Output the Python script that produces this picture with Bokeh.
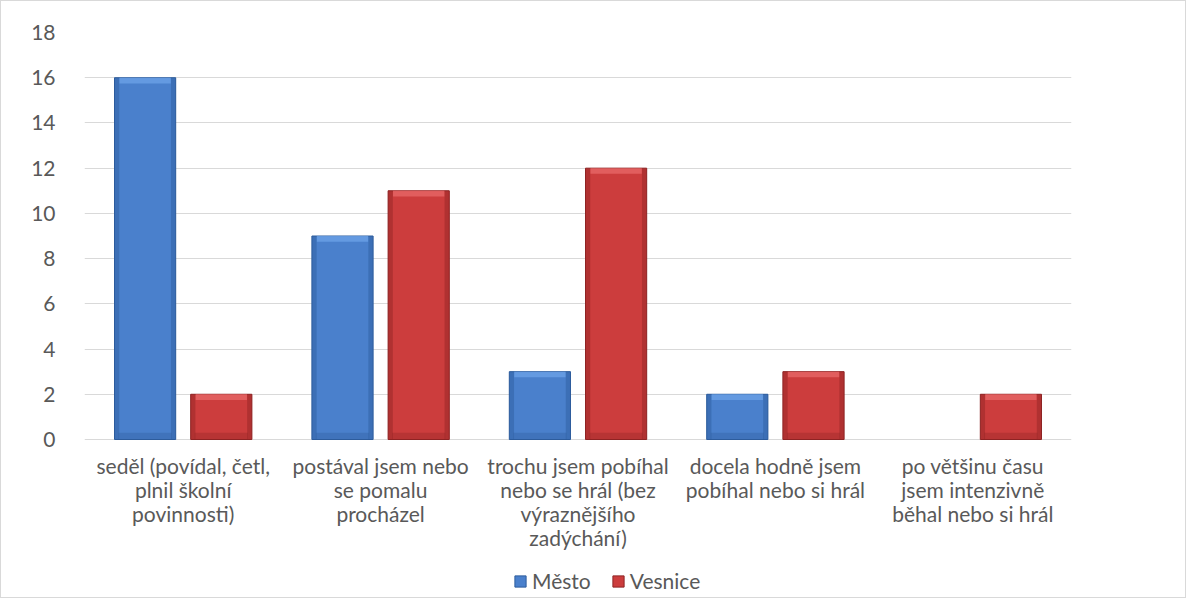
from bokeh.plotting import figure
from bokeh.models import ColumnDataSource, Range1d, FixedTicker, Legend, LegendItem
from bokeh.core.properties import value
from bokeh.embed import file_html
from bokeh.resources import INLINE

categories = [
    "seděl (povídal, četl,\nplnil školní\npovinnosti)",
    "postával jsem nebo\nse pomalu\nprocházel",
    "trochu jsem pobíhal\nnebo se hrál (bez\nvýraznějšího\nzadýchání)",
    "docela hodně jsem\npobíhal nebo si hrál",
    "po většinu času\njsem intenzivně\nběhal nebo si hrál",
]
mesto = [16, 9, 3, 2, 0]
vesnice = [2, 11, 12, 3, 2]
y_ticks = [0, 2, 4, 6, 8, 10, 12, 14, 16, 18]

FONT = "Lato"
TXT = "#595959"
FS = "21px"

H = 598
TOP = 31
PX_PER_UNIT = 407 / 18.0
frame_h = H - TOP
ymin = 18 - frame_h / PX_PER_UNIT

p = figure(width=1186, height=H, output_backend="svg", toolbar_location=None,
           x_range=Range1d(-0.5, 4.5), y_range=Range1d(ymin, 18),
           min_border_left=83, min_border_right=116, min_border_top=TOP, min_border_bottom=0)
p.styles = {"border": "1px solid #d9d9d9", "box-sizing": "border-box"}
p.outline_line_color = None
p.xaxis.visible = False
p.xgrid.grid_line_color = None
p.ygrid.grid_line_color = "#d9d9d9"
p.ygrid.grid_line_width = 1
p.yaxis.ticker = FixedTicker(ticks=y_ticks)
p.yaxis.axis_line_color = None
p.yaxis.major_tick_line_color = None
p.yaxis.minor_tick_line_color = None
p.yaxis.major_label_text_font = FONT
p.yaxis.major_label_text_font_size = FS
p.yaxis.major_label_text_color = TXT
p.yaxis.major_label_standoff = 23

idx = list(range(len(categories)))
lab = ColumnDataSource(dict(x=idx, y=[0] * len(idx), t=categories))
p.text(x="x", y="y", text="t", source=lab, y_offset=13,
       text_align="center", text_baseline="top", text_font=value(FONT),
       text_font_size=FS, text_color=TXT, text_line_height=0.97)

W = 0.31
OFF = 0.193
series = [
    ("Město", mesto, -OFF, "#4a80cc", "#6aa0e6", "#2d5c9c"),
    ("Vesnice", vesnice, OFF, "#cc3d3d", "#e66666", "#8e2424"),
]
items = []
for name, vals, off, body, light, dark in series:
    xs = [i + off for i in idx]
    vis = [1.0 if v > 0 else 0.0 for v in vals]
    src = ColumnDataSource(dict(x=xs, top=vals, vis=vis,
                                sa=[0.45 * a for a in vis],
                                ba=[0.35 * a for a in vis],
                                ha=[0.8 * a for a in vis],
                                tb=[max(v - 0.25, 0) for v in vals],
                                bt=[min(v, 0.3) for v in vals],
                                xl=[x - W / 2 + 0.012 for x in xs],
                                xr=[x + W / 2 - 0.012 for x in xs]))
    r = p.vbar(x="x", top="top", bottom=0, width=W, source=src,
               fill_color=body, fill_alpha="vis", line_color=dark, line_alpha="vis",
               line_width=1)
    p.vbar(x="x", top="bt", bottom=0, width=W - 0.04, source=src,
           fill_color=dark, fill_alpha="ba", line_color=None)
    p.vbar(x="xl", top="top", bottom=0, width=0.024, source=src,
           fill_color=dark, fill_alpha="sa", line_color=None)
    p.vbar(x="xr", top="top", bottom=0, width=0.024, source=src,
           fill_color=dark, fill_alpha="sa", line_color=None)
    p.vbar(x="x", top="top", bottom="tb", width=W - 0.05, source=src,
           fill_color=light, fill_alpha="ha", line_color=None)
    items.append(LegendItem(label=name, renderers=[r]))

legend = Legend(items=items, orientation="horizontal", location=(429, 6),
                glyph_width=14, glyph_height=14, label_standoff=5, spacing=20,
                padding=0, margin=0, border_line_color=None, background_fill_alpha=0,
                label_text_font=FONT, label_text_font_size=FS, label_text_color=TXT,
                label_height=20)
p.add_layout(legend, "center")

open("out.html", "w").write(file_html(p, INLINE))
